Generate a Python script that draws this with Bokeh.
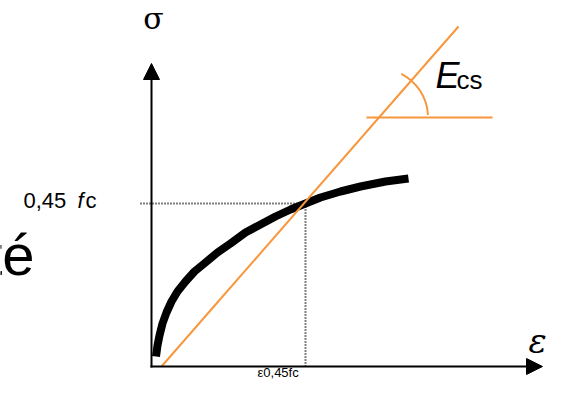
from bokeh.plotting import figure
from bokeh.models import Arrow, NormalHead, Range1d
from bokeh.core.properties import value
from bokeh.embed import file_html
from bokeh.resources import INLINE
import math

# ---- data (diagram units: strain eps, stress sigma) ----
strain = [0.045, 0.06, 0.08, 0.11, 0.15, 0.20, 0.26, 0.34, 0.43, 0.54, 0.66, 0.79,
          0.94, 1.09, 1.24, 1.39, 1.54, 1.69, 1.89, 2.09, 2.34, 2.57]
stress = [0.10, 0.21, 0.31, 0.43, 0.54, 0.65, 0.75, 0.85, 0.95, 1.04, 1.14, 1.23,
          1.34, 1.42, 1.50, 1.57, 1.63, 1.69, 1.75, 1.80, 1.85, 1.88]

eps_045 = 1.54          # strain at 0.45 fc
sig_045 = 1.63          # 0.45 fc

secant_x = [0.10, 3.07]
secant_y = [0.00, 3.40]

horiz_x = [2.15, 3.41]
horiz_y = 2.49

axis_x_end = 3.91
axis_y_end = 3.03
dotted_x_start = -0.11

arc_radius = 0.49
arc_start_deg = 3
arc_end_deg = 63

labels = {
    "sigma": "σ",
    "eps": "ε",
    "fc_num": "0,45 ",
    "fc_f": "f",
    "fc_c": "c",
    "Ecs_E": "E",
    "Ecs_cs": "cs",
    "eps045": "ε0,45fc",
    "side": "té",
}

ORANGE = "#f7963a"
SANS = value("Liberation Sans")
DSERIF = value("DejaVu Serif")

p = figure(width=549, height=379,
           x_range=Range1d(-1.51, 3.98), y_range=Range1d(-0.13, 3.66),
           output_backend="svg", toolbar_location=None,
           x_axis_location=None, y_axis_location=None, min_border=0)
p.grid.visible = False
p.outline_line_color = None
p.background_fill_color = "white"
p.border_fill_color = "white"

# axes with arrow heads
p.add_layout(Arrow(end=NormalHead(size=16, fill_color="black", line_color="black", line_width=1),
                   x_start=0, y_start=-0.01, x_end=0, y_end=axis_y_end,
                   line_width=2, line_color="black"))
p.add_layout(Arrow(end=NormalHead(size=16, fill_color="black", line_color="black", line_width=1),
                   x_start=-0.01, y_start=0, x_end=axis_x_end, y_end=0,
                   line_width=2, line_color="black"))

# dotted guides
p.line([dotted_x_start, eps_045], [sig_045, sig_045], line_dash="1 2", line_width=2, line_color="black")
p.line([eps_045, eps_045], [sig_045, 0], line_dash="1 2", line_width=2, line_color="black")

# stress-strain curve
p.line(strain, stress, line_width=8, line_color="black", line_cap="butt", line_join="round")

# secant modulus line
p.line(secant_x, secant_y, line_width=2, line_color=ORANGE)
p.line(horiz_x, [horiz_y, horiz_y], line_width=2, line_color=ORANGE)

slope = (secant_y[1] - secant_y[0]) / (secant_x[1] - secant_x[0])
cx = secant_x[0] + (horiz_y - secant_y[0]) / slope
p.arc(x=[cx], y=[horiz_y], radius=arc_radius,
      start_angle=math.radians(arc_start_deg), end_angle=math.radians(arc_end_deg),
      line_color=ORANGE, line_width=2)

# texts
p.text(x=[0.02], y=[3.48], text=[labels["sigma"]], text_font=DSERIF, text_font_size="30px",
       text_align="center", text_baseline="middle", text_color="black")
p.text(x=[3.86], y=[0.26], text=[labels["eps"]], text_font=DSERIF, text_font_style="italic",
       text_font_size="34px", text_align="center", text_baseline="middle", text_color="black")

# 0,45 fc label
p.text(x=[-1.28], y=[sig_045], text=[labels["fc_num"]], text_font=SANS, text_font_size="22px",
       text_align="left", text_baseline="middle", y_offset=-3, text_color="black")
p.text(x=[-1.28], y=[sig_045], text=[labels["fc_f"]], text_font=SANS, text_font_size="22px",
       text_font_style="italic", x_offset=54, text_align="left", text_baseline="middle",
       y_offset=-3, text_color="black")
p.text(x=[-1.28], y=[sig_045], text=[labels["fc_c"]], text_font=SANS, text_font_size="22px",
       x_offset=62, text_align="left", text_baseline="middle", y_offset=-3, text_color="black")

# Ecs label
p.text(x=[2.84], y=[2.79], text=[labels["Ecs_E"]], text_font=SANS, text_font_size="36px",
       text_font_style="italic", text_align="left", text_baseline="middle", y_offset=-12,
       text_color="black")
p.text(x=[2.84], y=[2.79], text=[labels["Ecs_cs"]], text_font=SANS, text_font_size="26px",
       x_offset=21, text_align="left", text_baseline="middle", y_offset=-8, text_color="black")

# eps_0.45fc label (kept inside the canvas)
p.text(x=[1.06], y=[-0.06], text=[labels["eps045"]], text_font=SANS,
       text_font_size="13px", text_align="left", text_baseline="middle", text_color="black")

# partial slide text on the left
p.text(x=[-1.17], y=[1.12], text=[labels["side"]], text_font=SANS, text_font_size="58px",
       text_align="right", text_baseline="middle", text_color="black")

open("out.html", "w").write(file_html(p, INLINE))
